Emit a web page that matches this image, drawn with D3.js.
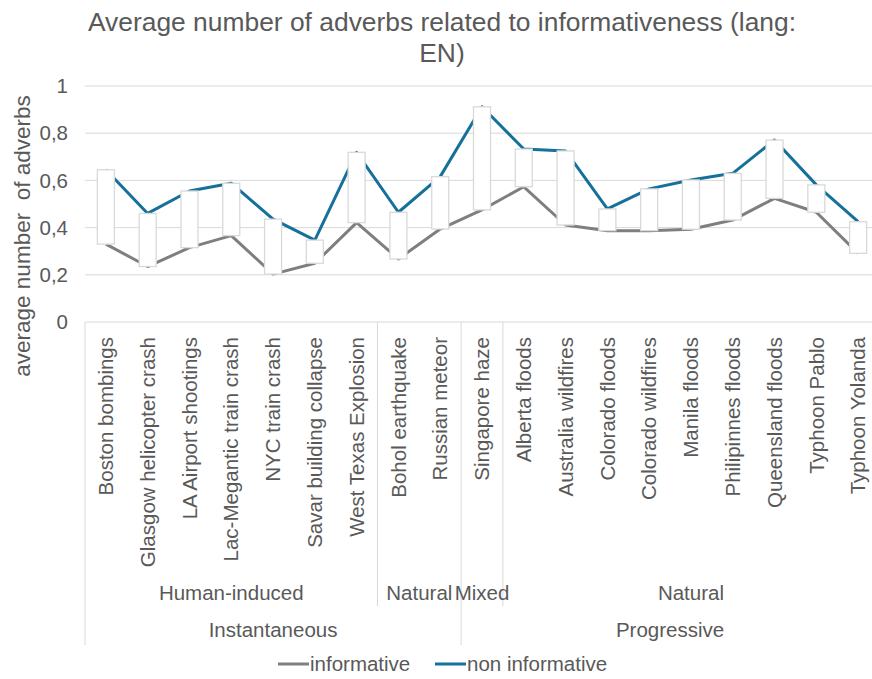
<!DOCTYPE html>
<html>
<head>
<meta charset="utf-8">
<script src="https://cdn.jsdelivr.net/npm/d3@7"></script>
<style>
  html, body { margin: 0; padding: 0; background: #ffffff; }
  svg { display: block; font-family: Arial, "Liberation Sans", sans-serif; }
</style>
</head>
<body>
<svg id="chart" width="872" height="679"></svg>
<script>
// Events, in axis order
const categories = [
  "Boston bombings", "Glasgow helicopter crash", "LA Airport shootings",
  "Lac-Megantic train crash", "NYC train crash", "Savar building collapse",
  "West Texas Explosion", "Bohol earthquake", "Russian meteor",
  "Singapore haze", "Alberta floods", "Australia wildfires", "Colorado floods",
  "Colorado wildfires", "Manila floods", "Philipinnes floods",
  "Queensland floods", "Typhoon Pablo", "Typhoon Yolanda"
];

// Average number of adverbs per tweet
const informative = [
  0.33, 0.235, 0.315, 0.366, 0.203, 0.249, 0.421, 0.267, 0.394,
  0.475, 0.573, 0.411, 0.387, 0.387, 0.393, 0.432, 0.524, 0.465, 0.291
];
const nonInformative = [
  0.645, 0.46, 0.555, 0.588, 0.436, 0.347, 0.719, 0.465, 0.616,
  0.912, 0.733, 0.725, 0.479, 0.564, 0.602, 0.630, 0.771, 0.581, 0.425
];

// Category hierarchy (how many events each group spans)
const typeLabels = ["Human-induced", "Natural", "Mixed", "Natural"];
const typeSpans = [7, 2, 1, 9];
const durationLabels = ["Instantaneous", "Progressive"];
const durationSpans = [9, 10];

const yTicks = [0, 0.2, 0.4, 0.6, 0.8, 1];
const tickText = d => d === 0 ? "0" : d === 1 ? "1" : String(d).replace(".", ",");

const seriesNames = ["informative", "non informative"];
const colors = { informative: "#7f7f7f", nonInformative: "#15709a" };
const textColor = "#595959";
const gridColor = "#d9d9d9";
const labelSize = 20.5;

const svg = d3.select("#chart");

const x = d3.scaleBand().domain(categories).range([85, 879]).padding(0);
const y = d3.scaleLinear().domain([0, 1]).range([322, 86]);

// Title
svg.append("text")
  .attr("x", 442).attr("y", 31)
  .attr("text-anchor", "middle")
  .attr("font-size", 26.4).attr("fill", textColor)
  .text("Average number of adverbs related to informativeness (lang:");
svg.append("text")
  .attr("x", 442).attr("y", 62)
  .attr("text-anchor", "middle")
  .attr("font-size", 26.4).attr("fill", textColor)
  .text("EN)");

// Horizontal gridlines
svg.append("g")
  .selectAll("line")
  .data(yTicks)
  .join("line")
  .attr("x1", 85).attr("x2", 879)
  .attr("y1", d => y(d)).attr("y2", d => y(d))
  .attr("stroke", gridColor).attr("stroke-width", 1);

// Y tick labels
svg.append("g")
  .selectAll("text")
  .data(yTicks)
  .join("text")
  .attr("x", 68).attr("y", d => y(d))
  .attr("dy", "0.35em")
  .attr("text-anchor", "end")
  .attr("font-size", labelSize).attr("fill", textColor)
  .text(tickText);

// Y axis title
svg.append("text")
  .attr("transform", "translate(22,236) rotate(-90)")
  .attr("text-anchor", "middle")
  .attr("dy", "0.35em")
  .attr("font-size", 22.5).attr("fill", textColor)
  .attr("xml:space", "preserve")
  .text("average number  of adverbs");

// Series lines
const line = d3.line()
  .x((d, i) => x(categories[i]) + x.bandwidth() / 2)
  .y(d => y(d));

svg.append("path")
  .datum(informative)
  .attr("d", line)
  .attr("fill", "none")
  .attr("stroke", colors.informative)
  .attr("stroke-width", 3)
  .attr("stroke-linejoin", "round");

svg.append("path")
  .datum(nonInformative)
  .attr("d", line)
  .attr("fill", "none")
  .attr("stroke", colors.nonInformative)
  .attr("stroke-width", 3)
  .attr("stroke-linejoin", "round");

// Up/down bars spanning the two series
const barW = 17;
svg.append("g")
  .selectAll("rect")
  .data(categories)
  .join("rect")
  .attr("x", d => x(d) + x.bandwidth() / 2 - barW / 2)
  .attr("width", barW)
  .attr("y", (d, i) => y(Math.max(informative[i], nonInformative[i])))
  .attr("height", (d, i) => Math.abs(y(informative[i]) - y(nonInformative[i])))
  .attr("fill", "#ffffff")
  .attr("stroke", gridColor)
  .attr("stroke-width", 1.3);

// Category labels (rotated)
svg.append("g")
  .selectAll("text")
  .data(categories)
  .join("text")
  .attr("transform", d => `translate(${x(d) + x.bandwidth() / 2},337) rotate(-90)`)
  .attr("text-anchor", "end")
  .attr("dy", "0.35em")
  .attr("font-size", labelSize).attr("fill", textColor)
  .text(d => d);

// Group boundaries and labels
function groupRanges(spans) {
  let start = 0;
  return spans.map(n => {
    const r = [start, start + n];
    start += n;
    return r;
  });
}
const typeRanges = groupRanges(typeSpans);
const durationRanges = groupRanges(durationSpans);
const edge = i => i < categories.length ? x(categories[i]) : x.range()[1];

const sep = svg.append("g").attr("stroke", gridColor).attr("stroke-width", 1);

// Boundaries of the outer level run through the bottom row
durationRanges.forEach(r => {
  sep.append("line")
    .attr("x1", edge(r[0])).attr("x2", edge(r[0]))
    .attr("y1", 322).attr("y2", 645);
});
// Inner boundaries stop above the bottom row
typeRanges.forEach(r => {
  const xi = edge(r[0]);
  if (durationRanges.some(d => d[0] === r[0])) return;
  sep.append("line")
    .attr("x1", xi).attr("x2", xi)
    .attr("y1", 322).attr("y2", 606);
});

svg.append("g")
  .selectAll("text")
  .data(typeLabels)
  .join("text")
  .attr("x", (d, i) => (edge(typeRanges[i][0]) + edge(typeRanges[i][1])) / 2)
  .attr("y", 600)
  .attr("text-anchor", "middle")
  .attr("font-size", labelSize).attr("fill", textColor)
  .text(d => d);

svg.append("g")
  .selectAll("text")
  .data(durationLabels)
  .join("text")
  .attr("x", (d, i) => (edge(durationRanges[i][0]) + edge(durationRanges[i][1])) / 2)
  .attr("y", 637)
  .attr("text-anchor", "middle")
  .attr("font-size", labelSize).attr("fill", textColor)
  .text(d => d);

// Legend
const legendItems = [
  { name: seriesNames[0], color: colors.informative, x: 278 },
  { name: seriesNames[1], color: colors.nonInformative, x: 435 }
];
const lg = svg.append("g")
  .selectAll("g")
  .data(legendItems)
  .join("g")
  .attr("transform", d => `translate(${d.x},664)`);
lg.append("line")
  .attr("x1", 0).attr("x2", 31)
  .attr("stroke", d => d.color).attr("stroke-width", 3);
lg.append("text")
  .attr("x", 32).attr("dy", "0.35em")
  .attr("font-size", labelSize).attr("fill", textColor)
  .text(d => d.name);
</script>
</body>
</html>
